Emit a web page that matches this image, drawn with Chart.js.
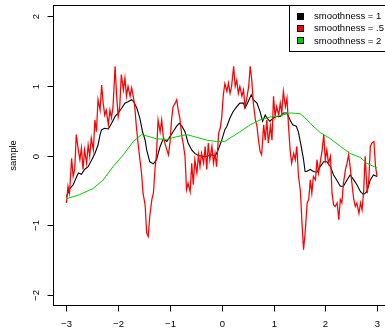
<!DOCTYPE html>
<html>
<head>
<meta charset="utf-8">
<style>
  html, body { margin: 0; padding: 0; background: #ffffff; overflow: hidden; }
  #wrap { width: 385px; height: 333px; overflow: hidden; position: relative; }
  canvas { display: block; }
</style>
<script src="https://cdn.jsdelivr.net/npm/chart.js@4/dist/chart.umd.min.js"></script>
</head>
<body>
<div id="wrap"><canvas id="c" width="400" height="333"></canvas></div>
<script>
// Axis ticks and labels
const xTicks = [-3, -2, -1, 0, 1, 2, 3];
const xTickLabels = ['\u22123', '\u22122', '\u22121', '0', '1', '2', '3'];
const yTicks = [-2, -1, 0, 1, 2];
const yTickLabels = ['\u22122', '\u22121', '0', '1', '2'];
const yTitle = 'sample';

// Series names and colours (legend order)
const seriesNames = ['smoothness = 1', 'smoothness = .5', 'smoothness = 2'];
const seriesColors = ['#000000', '#ff0000', '#00cd00'];

// smoothness = .5 (rough sample path)
const roughX = [-3.00,-2.97,-2.94,-2.90,-2.87,-2.84,-2.81,-2.77,-2.74,-2.71,
  -2.68,-2.65,-2.61,-2.58,-2.55,-2.52,-2.48,-2.45,-2.42,-2.39,
  -2.35,-2.32,-2.29,-2.26,-2.23,-2.19,-2.16,-2.13,-2.10,-2.06,
  -2.03,-2.00,-1.97,-1.94,-1.90,-1.87,-1.84,-1.81,-1.77,-1.74,
  -1.71,-1.68,-1.65,-1.61,-1.58,-1.55,-1.52,-1.48,-1.45,-1.42,
  -1.39,-1.35,-1.32,-1.29,-1.26,-1.23,-1.19,-1.16,-1.13,-1.10,
  -1.06,-1.03,-1.00,-0.97,-0.94,-0.90,-0.87,-0.84,-0.81,-0.77,
  -0.74,-0.71,-0.68,-0.65,-0.61,-0.58,-0.55,-0.52,-0.48,-0.45,
  -0.42,-0.39,-0.35,-0.32,-0.29,-0.26,-0.23,-0.19,-0.16,-0.13,
  -0.10,-0.06,-0.03,0.00,0.03,0.06,0.10,0.13,0.16,0.19,
  0.23,0.26,0.29,0.32,0.35,0.39,0.42,0.45,0.48,0.52,
  0.55,0.58,0.61,0.65,0.68,0.71,0.74,0.77,0.81,0.84,
  0.87,0.90,0.94,0.97,1.00,1.03,1.06,1.10,1.13,1.16,
  1.19,1.23,1.26,1.29,1.32,1.35,1.39,1.42,1.45,1.48,
  1.52,1.55,1.58,1.61,1.65,1.68,1.71,1.74,1.77,1.81,
  1.84,1.87,1.90,1.94,1.97,2.00,2.03,2.06,2.10,2.13,
  2.16,2.19,2.23,2.26,2.29,2.32,2.35,2.39,2.42,2.45,
  2.48,2.52,2.55,2.58,2.61,2.65,2.68,2.71,2.74,2.77,
  2.81,2.84,2.87,2.90,2.94,2.97,3.00];
const roughY = [-0.68,-0.44,-0.54,-0.04,-0.30,-0.20,0.30,0.08,-0.06,0.11,
  -0.20,0.08,-0.11,0.15,-0.01,0.25,0.08,0.51,0.34,0.80,
  0.65,1.01,0.75,0.58,0.65,0.44,0.65,0.54,0.70,1.28,
  0.85,0.56,0.70,1.16,0.94,1.11,0.85,0.99,0.85,0.97,
  0.85,0.70,0.42,0.13,-0.06,-0.25,-0.54,-0.71,-1.11,-1.16,
  -0.87,-0.63,-0.54,-0.20,0.03,0.51,0.34,0.51,0.27,0.18,
  0.08,0.01,0.18,0.51,0.70,0.75,0.80,0.65,0.54,0.27,
  0.15,-0.01,-0.49,-0.40,-0.52,-0.11,-0.42,-0.06,-0.25,0.01,
  -0.16,0.03,-0.11,0.13,-0.20,0.18,-0.06,0.13,-0.11,0.03,
  -0.16,0.32,0.39,0.55,0.87,1.03,0.92,1.04,0.89,0.99,
  1.28,0.99,1.08,0.89,0.99,0.85,0.94,0.70,0.80,0.99,
  1.28,1.08,0.75,0.51,0.42,0.22,0.06,0.01,0.44,0.22,
  0.51,0.18,0.42,0.22,0.85,0.56,0.70,0.58,0.75,0.61,
  0.92,0.70,0.82,0.42,0.08,-0.11,0.03,-0.06,0.13,-0.28,
  -0.52,-0.97,-1.35,-1.11,-0.68,-0.63,-0.35,-0.54,-0.30,-0.35,
  -0.06,-0.25,-0.11,0.08,0.30,-0.06,0.08,-0.11,-0.01,-0.54,
  -0.71,-0.73,-0.68,-0.92,-0.63,-0.68,-0.40,-0.20,-0.11,0.01,
  -0.16,-0.44,-0.63,-0.73,-0.68,-0.83,-0.68,-0.78,-0.52,-0.01,
  -0.54,-0.35,0.13,0.18,0.20,-0.16,-0.30];

// smoothness = 1
const midX = [-3.00,-2.93,-2.87,-2.80,-2.77,-2.71,-2.65,-2.58,-2.51,-2.45,
  -2.39,-2.35,-2.32,-2.26,-2.19,-2.13,-2.06,-2.00,-1.93,-1.87,
  -1.81,-1.74,-1.70,-1.64,-1.58,-1.53,-1.48,-1.45,-1.39,-1.32,
  -1.26,-1.19,-1.13,-1.06,-1.00,-0.94,-0.87,-0.82,-0.77,-0.71,
  -0.65,-0.58,-0.52,-0.45,-0.39,-0.29,-0.19,-0.13,-0.07,0.00,
  0.06,0.10,0.16,0.22,0.29,0.35,0.42,0.45,0.51,0.57,
  0.61,0.68,0.74,0.79,0.84,0.87,0.93,1.00,1.06,1.13,
  1.19,1.26,1.32,1.37,1.44,1.48,1.53,1.58,1.61,1.64,
  1.71,1.77,1.84,1.90,1.97,2.03,2.10,2.16,2.22,2.29,
  2.35,2.42,2.48,2.55,2.61,2.68,2.74,2.80,2.87,2.93,
  3.00];
const midY = [-0.59,-0.47,-0.42,-0.30,-0.25,-0.27,-0.20,-0.16,-0.06,0.03,
  0.15,0.30,0.37,0.39,0.38,0.46,0.56,0.61,0.68,0.75,
  0.77,0.80,0.77,0.68,0.53,0.34,0.22,0.08,-0.09,-0.12,
  -0.06,0.13,0.24,0.20,0.27,0.34,0.42,0.46,0.42,0.34,
  0.18,0.08,0.03,0.00,-0.01,-0.01,0.01,-0.01,0.08,0.22,
  0.37,0.42,0.54,0.63,0.70,0.75,0.75,0.68,0.77,0.87,
  0.80,0.75,0.63,0.49,0.58,0.54,0.49,0.54,0.56,0.56,
  0.61,0.61,0.51,0.44,0.42,0.34,0.15,-0.06,-0.23,-0.23,
  -0.20,-0.23,-0.24,-0.16,-0.09,-0.09,-0.16,-0.28,-0.35,-0.44,
  -0.44,-0.35,-0.28,-0.35,-0.42,-0.52,-0.56,-0.52,-0.35,-0.28,
  -0.30];

// smoothness = 2
const smoothX = [-3.00,-2.74,-2.48,-2.29,-2.10,-1.90,-1.71,-1.55,-1.45,-1.26,
  -1.06,-0.87,-0.68,-0.48,-0.29,-0.10,0.06,0.16,0.35,0.55,
  0.74,0.93,1.13,1.32,1.51,1.61,1.71,1.90,2.10,2.29,
  2.48,2.68,2.80,3.00];
const smoothY = [-0.62,-0.56,-0.47,-0.35,-0.16,0.01,0.20,0.30,0.28,0.24,
  0.23,0.27,0.30,0.26,0.22,0.20,0.20,0.25,0.34,0.44,
  0.51,0.55,0.57,0.61,0.60,0.54,0.46,0.33,0.24,0.13,
  0.03,-0.03,-0.11,-0.18];

const FONT = '9.5px "Liberation Sans", Arial, Helvetica, sans-serif';

function pts(xs, ys) { return xs.map((x, i) => ({ x: x, y: ys[i] })); }

// Box, ticks, rotated labels and legend in base-graphics style
const frame = {
  id: 'frame',
  afterDraw(chart) {
    const ctx = chart.ctx;
    const a = chart.chartArea;
    const sx = chart.scales.x, sy = chart.scales.y;
    const L = Math.round(a.left) - 0.5;
    const T = Math.round(a.top) + 0.5;
    const R = Math.round(a.right) + 0.5;
    const B = Math.round(a.bottom) - 0.5;
    ctx.save();
    ctx.strokeStyle = '#000';
    ctx.lineWidth = 1;
    ctx.strokeRect(L, T, R - L, B - T);

    ctx.fillStyle = '#000';
    ctx.font = FONT;
    ctx.textAlign = 'center';
    ctx.textBaseline = 'middle';

    xTicks.forEach((v, i) => {
      const px = Math.round(sx.getPixelForValue(v)) + 0.5;
      ctx.beginPath(); ctx.moveTo(px, B); ctx.lineTo(px, B + 6); ctx.stroke();
      ctx.fillText(xTickLabels[i], px, B + 19);
    });

    yTicks.forEach((v, i) => {
      const py = Math.round(sy.getPixelForValue(v)) + 0.5;
      ctx.beginPath(); ctx.moveTo(L, py); ctx.lineTo(L - 6, py); ctx.stroke();
      ctx.save();
      ctx.translate(L - 17, py);
      ctx.rotate(-Math.PI / 2);
      ctx.fillText(yTickLabels[i], 0, 0);
      ctx.restore();
    });

    ctx.save();
    ctx.translate(13.5, (a.top + a.bottom) / 2);
    ctx.rotate(-Math.PI / 2);
    ctx.fillText(yTitle, 0, 0);
    ctx.restore();

    // legend
    const lx = 289.5, lb = 51.5;
    ctx.fillStyle = '#fff';
    ctx.fillRect(lx, T, R - lx, lb - T);
    ctx.strokeRect(lx, T, R - lx, lb - T);
    ctx.textAlign = 'left';
    seriesNames.forEach((name, i) => {
      const cy = 16.5 + i * 12.3;
      ctx.fillStyle = seriesColors[i];
      ctx.fillRect(298, Math.round(cy - 3), 5, 5);
      ctx.strokeRect(297.5, Math.round(cy - 3) - 0.5, 6, 6);
      ctx.fillStyle = '#000';
      ctx.fillText(name, 314, cy);
    });
    ctx.restore();
  }
};

new Chart(document.getElementById('c'), {
  type: 'line',
  data: {
    datasets: [
      { label: seriesNames[2], data: pts(smoothX, smoothY), borderColor: seriesColors[2], borderWidth: 1, order: 0 },
      { label: seriesNames[1], data: pts(roughX, roughY), borderColor: seriesColors[1], borderWidth: 1.25, order: 1 },
      { label: seriesNames[0], data: pts(midX, midY), borderColor: seriesColors[0], borderWidth: 1.1, order: 2 }
    ]
  },
  options: {
    responsive: false,
    devicePixelRatio: 1,
    animation: false,
    events: [],
    layout: { padding: { left: 54, right: 10.5, top: 4.8, bottom: 26.8 } },
    elements: {
      line: { tension: 0, fill: false },
      point: { radius: 0 }
    },
    plugins: { legend: { display: false }, tooltip: { enabled: false } },
    scales: {
      x: { type: 'linear', min: -3.24, max: 3.24, display: false },
      y: { type: 'linear', min: -2.16, max: 2.16, display: false }
    }
  },
  plugins: [frame]
});
</script>
</body>
</html>
